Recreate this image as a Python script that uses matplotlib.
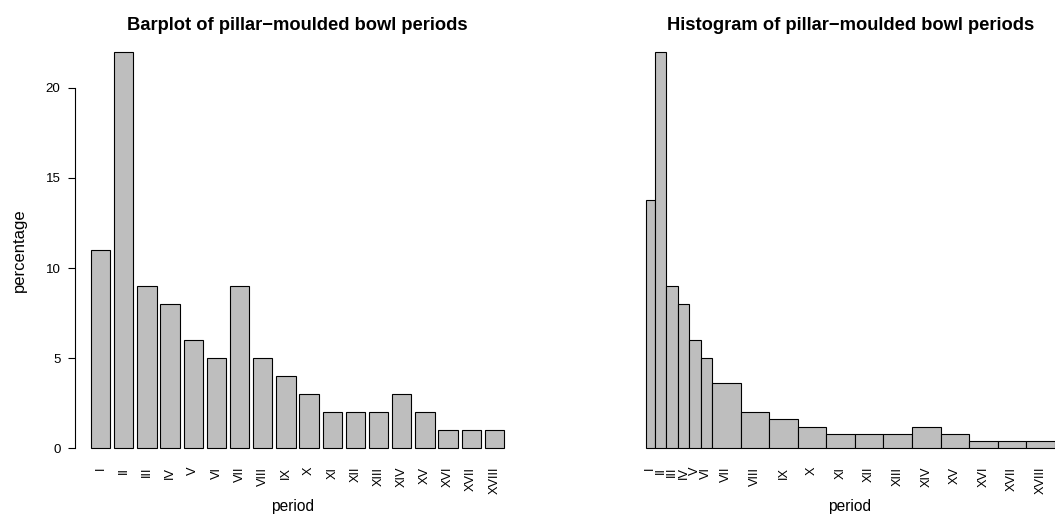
import numpy as np
import matplotlib
matplotlib.use("Agg")
import matplotlib.pyplot as plt

plt.rcParams['font.family'] = ['Liberation Sans', 'DejaVu Sans']

# data
periods = ["I", "II", "III", "IV", "V", "VI", "VII", "VIII", "IX", "X",
           "XI", "XII", "XIII", "XIV", "XV", "XVI", "XVII", "XVIII"]
percentage = [11, 22, 9, 8, 6, 5, 9, 5, 4, 3, 2, 2, 2, 3, 2, 1, 1, 1]
# relative length of each period (histogram bin widths)
period_length = [0.8, 1, 1, 1, 1, 1, 2.5, 2.5, 2.5, 2.5, 2.5, 2.5,
                 2.5, 2.5, 2.5, 2.5, 2.5, 2.5]

grey = "#BEBEBE"
W, H = 1055, 516
fig = plt.figure(figsize=(W / 100, H / 100), dpi=100)

def px_axes(x0, x1, y0, y1):
    # axes rectangle from pixel coords (top-left origin)
    return fig.add_axes([x0 / W, 1 - y1 / H, (x1 - x0) / W, (y1 - y0) / H])

ylim = (-0.88, 22.88)
ytick_fs = 9.6
xtick_fs = 9.2
title_fs = 13.2

# --- barplot ---
ax1 = px_axes(74.5, 520.5, 36, 464)
pos = 0.7 + 1.2 * np.arange(len(periods))
ax1.bar(pos, percentage, width=1, color=grey, edgecolor="black", linewidth=0.8)
ax1.set_xlim(-0.656, 22.456)
ax1.set_ylim(*ylim)
for s in ["top", "right", "bottom"]:
    ax1.spines[s].set_visible(False)
ax1.spines["left"].set_bounds(0, 20)
ax1.spines["left"].set_linewidth(0.8)
ax1.set_yticks([0, 5, 10, 15, 20])
ax1.tick_params(axis="y", length=5.3, width=0.8, pad=4.8, labelsize=ytick_fs)
ax1.set_xticks(pos)
ax1.set_xticklabels(periods, rotation=90, fontsize=xtick_fs)
ax1.tick_params(axis="x", length=0, pad=2)
ax1.set_title("Barplot of pillar\u2212moulded bowl periods", fontsize=title_fs,
              fontweight="bold", pad=4.3)
fig.text(19 / W, 1 - 250 / H, "percentage", rotation=90, ha="center",
         va="center", fontsize=12)
fig.text(293 / W, 1 - 507 / H, "period", ha="center", va="center",
         fontsize=11.2)

# --- histogram ---
edges = np.concatenate([[0], np.cumsum(period_length)])
density = np.array(percentage) / np.array(period_length)
ax2 = px_axes(629.3, 1071.3, 36, 464)
ax2.bar(edges[:-1], density, width=np.diff(edges), align="edge", color=grey,
        edgecolor="black", linewidth=0.8)
ax2.set_xlim(-0.04 * edges[-1], 1.04 * edges[-1])
ax2.set_ylim(*ylim)
for s in ax2.spines.values():
    s.set_visible(False)
ax2.set_yticks([])
mids = (edges[:-1] + edges[1:]) / 2
ax2.set_xticks(mids)
ax2.set_xticklabels(periods, rotation=90, fontsize=xtick_fs)
ax2.tick_params(axis="x", length=0, pad=2)
ax2.set_title("Histogram of pillar\u2212moulded bowl periods", fontsize=title_fs,
              fontweight="bold", pad=4.3)
fig.text(850 / W, 1 - 507 / H, "period", ha="center", va="center",
         fontsize=11.2)

plt.savefig("out.png", dpi=100)
